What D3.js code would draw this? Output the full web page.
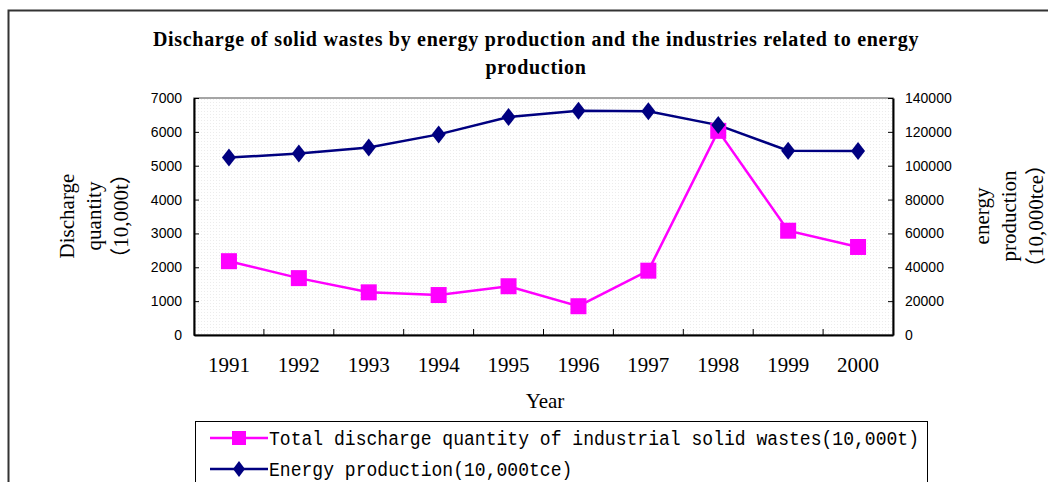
<!DOCTYPE html>
<html>
<head>
<meta charset="utf-8">
<script src="https://cdn.jsdelivr.net/npm/d3@7"></script>
<style>
  body { margin: 0; background: #fff; }
  svg { display: block; }
</style>
</head>
<body>
<div id="chart"></div>
<script>
// chart values
var years = ['1991', '1992', '1993', '1994', '1995', '1996', '1997', '1998', '1999', '2000'];
var wastes = [2180, 1680, 1260, 1180, 1440, 850, 1900, 6030, 3080, 2600];
var energy = [104800, 107200, 110800, 118500, 128800, 132400, 132200, 124000, 108900, 108700];
var leftTicks = [0, 1000, 2000, 3000, 4000, 5000, 6000, 7000];
var rightTicks = [0, 20000, 40000, 60000, 80000, 100000, 120000, 140000];

var width = 1048, height = 482;
var plot = { left: 194, right: 893, top: 98, bottom: 335 };

var svg = d3.select('#chart').append('svg')
    .attr('width', width)
    .attr('height', height);

// faint dotted plot background
var defs = svg.append('defs');
var pat = defs.append('pattern').attr('id', 'dots')
    .attr('width', 3).attr('height', 3).attr('patternUnits', 'userSpaceOnUse');
pat.append('rect').attr('width', 3).attr('height', 3).attr('fill', '#fff');
pat.append('rect').attr('width', 1).attr('height', 1).attr('fill', '#ececec');

// outer frame
svg.append('path')
    .attr('d', `M8.5,${height} V10.5 H${width}`)
    .attr('fill', 'none').attr('stroke', '#333').attr('stroke-width', 2);

// title
var title = svg.append('text')
    .attr('text-anchor', 'middle')
    .style('font-family', '"Liberation Serif", serif')
    .style('font-weight', 'bold')
    .style('font-size', '20px')
    .style('letter-spacing', '0.7px');
title.append('tspan').attr('x', 536).attr('y', 46)
    .text('Discharge of solid wastes by energy production and the industries related to energy');
title.append('tspan').attr('x', 536).attr('y', 74).text('production');

var x = d3.scaleBand().domain(years).range([plot.left, plot.right]);
var yL = d3.scaleLinear().domain([0, 7000]).range([plot.bottom, plot.top]);
var yR = d3.scaleLinear().domain([0, 140000]).range([plot.bottom, plot.top]);

svg.append('rect')
    .attr('x', plot.left).attr('y', plot.top)
    .attr('width', plot.right - plot.left).attr('height', plot.bottom - plot.top)
    .attr('fill', 'url(#dots)')
    .attr('stroke', '#888').attr('stroke-width', 1.5);

// axes
var axisFont = function (g) {
    g.selectAll('text')
        .style('font-family', '"Liberation Sans", Arial, sans-serif')
        .style('font-size', '14px')
        .attr('fill', '#000');
    g.select('.domain').attr('stroke', '#000').attr('stroke-width', 2);
    g.selectAll('.tick line').attr('stroke', '#000').attr('stroke-width', 1);
};

svg.append('g')
    .attr('transform', `translate(${plot.left},0)`)
    .call(d3.axisLeft(yL).tickValues(leftTicks).tickSize(-5).tickSizeOuter(0).tickPadding(12).tickFormat(d3.format('d')))
    .call(axisFont);

svg.append('g')
    .attr('transform', `translate(${plot.right},0)`)
    .call(d3.axisRight(yR).tickValues(rightTicks).tickSize(-5).tickSizeOuter(0).tickPadding(12).tickFormat(d3.format('d')))
    .call(axisFont);

var xAxis = svg.append('g')
    .attr('transform', `translate(0,${plot.bottom})`)
    .call(d3.axisBottom(x).tickSize(0).tickPadding(22))
    .call(axisFont);
xAxis.selectAll('text')
    .style('font-family', '"Liberation Serif", serif')
    .style('font-size', '21px');

// category boundary ticks (inside, pointing up)
svg.append('g').selectAll('line')
    .data(years.slice(1))
    .join('line')
    .attr('x1', d => x(d)).attr('x2', d => x(d))
    .attr('y1', plot.bottom).attr('y2', plot.bottom - 6)
    .attr('stroke', '#000');

// axis titles
var serif = '"Liberation Serif", "Noto Sans CJK SC", serif';
svg.append('text')
    .attr('x', 545).attr('y', 408)
    .attr('text-anchor', 'middle')
    .style('font-family', serif).style('font-size', '21px')
    .text('Year');

var leftTitle = svg.append('text')
    .attr('transform', 'translate(74,216) rotate(-90)')
    .attr('text-anchor', 'middle')
    .style('font-family', serif).style('font-size', '21px');
leftTitle.append('tspan').attr('x', 0).attr('dy', 0).text('Discharge');
leftTitle.append('tspan').attr('x', 0).attr('dy', 27).text('quantity');
leftTitle.append('tspan').attr('x', 0).attr('dy', 27).text('（10,000t）');

var rightTitle = svg.append('text')
    .attr('transform', 'translate(989,216) rotate(-90)')
    .attr('text-anchor', 'middle')
    .style('font-family', serif).style('font-size', '21px');
rightTitle.append('tspan').attr('x', 0).attr('dy', 0).text('energy');
rightTitle.append('tspan').attr('x', 0).attr('dy', 27).text('production');
rightTitle.append('tspan').attr('x', 0).attr('dy', 27).text('（10,000tce）');

// series
var cx = d => x(d) + x.bandwidth() / 2;
var pink = '#ff00ff', navy = '#000080';

svg.append('path')
    .datum(wastes)
    .attr('fill', 'none').attr('stroke', pink).attr('stroke-width', 2.5)
    .attr('d', d3.line().x((d, i) => cx(years[i])).y(d => yL(d)));

svg.append('path')
    .datum(energy)
    .attr('fill', 'none').attr('stroke', navy).attr('stroke-width', 2.5)
    .attr('d', d3.line().x((d, i) => cx(years[i])).y(d => yR(d)));

var square = 'M-8,-8H8V8H-8Z';
var diamond = 'M0,-9L7,0L0,9L-7,0Z';

svg.append('g').selectAll('path')
    .data(wastes)
    .join('path')
    .attr('d', square)
    .attr('transform', (d, i) => `translate(${cx(years[i])},${yL(d)})`)
    .attr('fill', pink);

svg.append('g').selectAll('path')
    .data(energy)
    .join('path')
    .attr('d', diamond)
    .attr('transform', (d, i) => `translate(${cx(years[i])},${yR(d)})`)
    .attr('fill', navy);

// legend
var legend = svg.append('g');
legend.append('rect')
    .attr('x', 195.5).attr('y', 421.5)
    .attr('width', 732).attr('height', 80)
    .attr('fill', '#fff').attr('stroke', '#000');

var legendItems = [
    { label: 'Total discharge quantity of industrial solid wastes(10,000t)', color: pink, shape: 'M-7,-7H7V7H-7Z' },
    { label: 'Energy production(10,000tce)', color: navy, shape: 'M0,-8L6,0L0,8L-6,0Z' }
];
legendItems.forEach(function (item, i) {
    var ly = 438 + i * 31;
    legend.append('line')
        .attr('x1', 210).attr('x2', 268).attr('y1', ly).attr('y2', ly)
        .attr('stroke', item.color).attr('stroke-width', 2.5);
    legend.append('path')
        .attr('d', item.shape)
        .attr('transform', `translate(239,${ly})`)
        .attr('fill', item.color);
    legend.append('text')
        .attr('transform', `translate(269,${ly + 7}) scale(0.86,1)`)
        .style('font-family', '"Liberation Mono", monospace')
        .style('font-size', '21px')
        .text(item.label);
});
</script>
</body>
</html>
